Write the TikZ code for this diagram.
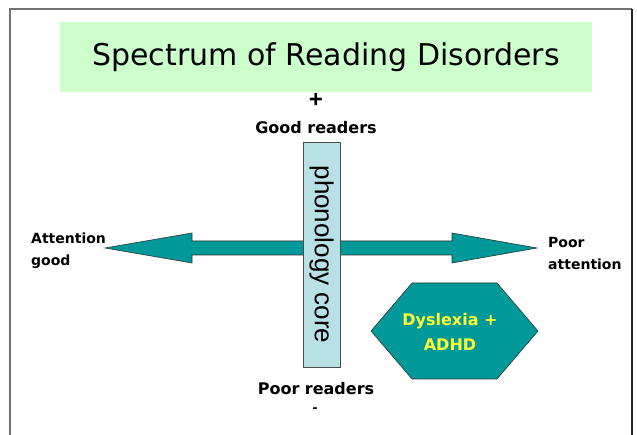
\documentclass[tikz,border=0pt]{standalone}
\usepackage{fontspec}
\setmainfont{Liberation Sans}
\newfontfamily\labelfont{DejaVu Sans}
\usetikzlibrary{shapes.geometric}
\definecolor{titlegreen}{HTML}{CCFFCC}
\definecolor{teal}{HTML}{009999}
\definecolor{paleblue}{HTML}{B9E0E4}
\definecolor{hexyellow}{HTML}{FFFF33}
\tikzset{
  lbl/.style={font=\labelfont\bfseries\fontsize{14}{22}\selectfont, align=left, inner sep=0pt},
  axislbl/.style={font=\labelfont\bfseries\fontsize{16}{18}\selectfont, inner sep=0pt},
  tealshape/.style={fill=teal, draw=black!80, line width=0.6pt, line join=miter},
}
\begin{document}
\begin{tikzpicture}[x=1pt,y=-1pt]
\useasboundingbox (0,0) rectangle (637,435);
% slide frame
\draw[gray!90!black, line width=1.4pt] (10,440) -- (10,9) -- (632,9);
\draw[black!85, line width=1.4pt] (632,9) -- (632,440);
% title banner
\node[fill=titlegreen, minimum width=532pt, minimum height=70pt, inner sep=0pt,
      font=\labelfont\fontsize{30}{34}\selectfont] (title) at (326,57) {Spectrum of Reading Disorders};
% horizontal double arrow
\draw[tealshape] (105,248) -- (192,233) -- (192,241) -- (452,241) -- (452,233)
  -- (537,248) -- (452,263) -- (452,255) -- (192,255) -- (192,263) -- cycle;
\coordinate (lefttip) at (105,248);
\coordinate (righttip) at (537,248);
% vertical phonology bar
\node[fill=paleblue, draw=black!70, line width=0.6pt, minimum width=37pt, minimum height=225pt,
      inner sep=0pt] (core) at (321.5,254.5) {};
\node[rotate=-90, font=\fontsize{26}{28}\selectfont] (coretext) at (core.center) {phonology core};
% axis labels
\node (plus) at (316,100) {\fontsize{24}{26}\selectfont\bfseries +};
\node[axislbl] (good) at (316,128) {Good readers};
\node[axislbl] (poor) at (316,389) {Poor readers};
\node[inner sep=0pt] (minus) at (315,410) {\fontsize{15}{16}\selectfont\bfseries -};
\node[lbl, anchor=west] (attn) at (31,251) {Attention\\good};
\node[lbl, anchor=west] (pattn) at (548,253) {Poor\\attention};
% overlap region
\draw[tealshape] (371,331) -- (412,283) -- (497,283) -- (538,331) -- (497,379) -- (412,379) -- cycle;
\node[font=\labelfont\bfseries\fontsize{16}{25}\selectfont, text=hexyellow, align=center] (combo) at (450,332)
  {Dyslexia +\\ADHD};
\end{tikzpicture}
\end{document}
